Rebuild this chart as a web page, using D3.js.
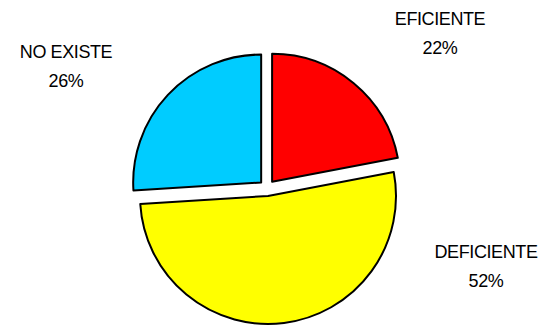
<!DOCTYPE html>
<html lang="en">
  <head>
    <meta charset="UTF-8" />
    <title>Pie</title>
    <script src="https://d3js.org/d3.v7.min.js"></script>
    <style>
      body {
        margin: 0;
        background: #fff;
      }
      .label {
        font-family: "Liberation Sans", Arial, sans-serif;
        font-size: 18px;
        letter-spacing: -0.4px;
        fill: #000;
      }
    </style>
  </head>
  <body>
    <div id="chart"></div>
    <script>
      // data
      const categories = ["EFICIENTE", "DEFICIENTE", "NO EXISTE"];
      const percents = [22, 52, 26];
      const colors = ["#ff0000", "#ffff00", "#00ccff"];

      const width = 543;
      const height = 326;
      const cx = 267;
      const cy = 188;
      const radius = 128;
      const explode = 8;

      // where the label blocks sit (centre x, first baseline)
      const labelPos = [
        [440, 25],
        [486, 258],
        [66, 58],
      ];

      const data = categories.map((c, i) => ({
        label: c,
        percent: percents[i],
        color: colors[i],
      }));

      const svg = d3
        .select("#chart")
        .append("svg")
        .attr("width", width)
        .attr("height", height);

      const pie = d3
        .pie()
        .sort(null)
        .value((d) => d.percent);

      const arc = d3.arc().innerRadius(0).outerRadius(radius);

      const g = svg.append("g").attr("transform", `translate(${cx},${cy})`);

      g.selectAll("path")
        .data(pie(data))
        .enter()
        .append("path")
        .attr("transform", (d) => {
          const a = (d.startAngle + d.endAngle) / 2;
          return `translate(${Math.sin(a) * explode},${-Math.cos(a) * explode})`;
        })
        .attr("d", arc)
        .attr("fill", (d) => d.data.color)
        .attr("stroke", "#000")
        .attr("stroke-width", 2)
        .attr("stroke-linejoin", "round");

      const labels = svg
        .selectAll("text.label")
        .data(data)
        .enter()
        .append("text")
        .attr("class", "label")
        .attr("text-anchor", "middle")
        .attr("x", (d, i) => labelPos[i][0])
        .attr("y", (d, i) => labelPos[i][1]);

      labels.append("tspan").text((d) => d.label);
      labels
        .append("tspan")
        .attr("x", (d, i) => labelPos[i][0])
        .attr("dy", 29)
        .text((d) => d.percent + "%");
    </script>
  </body>
</html>
